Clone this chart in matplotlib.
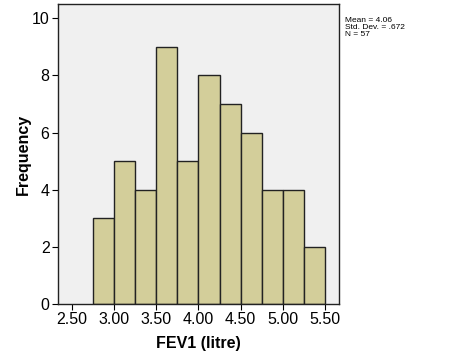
import matplotlib
matplotlib.use("Agg")
import matplotlib.pyplot as plt

bin_edges = [2.75, 3.00, 3.25, 3.50, 3.75, 4.00, 4.25, 4.50, 4.75, 5.00, 5.25, 5.50]
counts = [3, 5, 4, 9, 5, 8, 7, 6, 4, 4, 2]
xticks = [2.50, 3.00, 3.50, 4.00, 4.50, 5.00, 5.50]
yticks = [0, 2, 4, 6, 8, 10]
stats_text = "Mean = 4.06\nStd. Dev. = .672\nN = 57"

plt.rcParams['font.family'] = ['Liberation Sans', 'DejaVu Sans']

fig = plt.figure(figsize=(4.52, 3.61), dpi=100)
ax = fig.add_axes([0.128, 0.158, 0.622, 0.831])
ax.set_facecolor('#f0f0f0')
lefts = bin_edges[:-1]
widths = [b - a for a, b in zip(bin_edges[:-1], bin_edges[1:])]
ax.bar(lefts, counts, width=widths, align='edge', color='#d3ce9a',
       edgecolor='#222222', linewidth=1.0)
ax.set_xlim(2.334, 5.666)
ax.set_ylim(0, 10.5)
ax.set_xticks(xticks)
ax.set_xticklabels([f"{t:.2f}" for t in xticks], fontsize=11.5)
ax.set_yticks(yticks)
ax.set_yticklabels([str(t) for t in yticks], fontsize=11.5)
ax.tick_params(direction='out', length=4, width=0.8, pad=2)
for s in ax.spines.values():
    s.set_linewidth(1.0)
    s.set_color('#222222')
ax.set_xlabel('FEV1 (litre)', fontsize=11.5, fontweight='bold', labelpad=6)
ax.set_ylabel('Frequency', fontsize=11.5, fontweight='bold', labelpad=1)
fig.text(345/452, 1 - 17/361, stats_text, fontsize=6, va='top', ha='left',
         linespacing=0.95)
fig.savefig('out.png', dpi=100)
